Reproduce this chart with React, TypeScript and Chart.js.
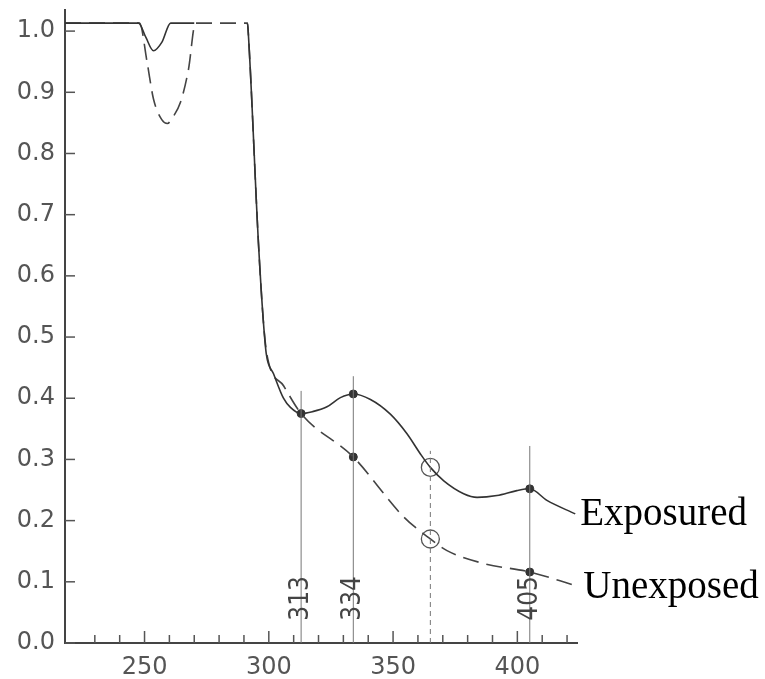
import React, { useEffect, useRef } from 'react';
import { Chart, registerables } from 'chart.js';
Chart.register(...registerables);

// Wavelength (nm) and relative transmittance
const exposedX = [218, 247.6, 250.5, 253.6, 257, 260.5, 270, 291.4, 291.7, 295.8, 297.8, 299, 301.9, 305.9, 308.7, 313, 317.5, 323.4, 328.8, 334, 340.9, 348.9, 355.6, 361, 365, 370.4, 378.4, 383.8, 391.8, 399.8, 405, 411.9, 423.3];
const exposedY = [1.013, 1.013, 0.99, 0.968, 0.982, 1.013, 1.013, 1.013, 1.0, 0.656, 0.526, 0.472, 0.44, 0.4, 0.385, 0.375, 0.378, 0.386, 0.401, 0.407, 0.398, 0.374, 0.342, 0.309, 0.287, 0.265, 0.244, 0.238, 0.241, 0.249, 0.252, 0.233, 0.211];

const unexposedX = [218, 248, 251, 253.6, 257, 259.2, 261.5, 264.5, 267.7, 270.5, 291.4, 291.7, 295.8, 297.8, 299.3, 306, 313, 334, 354.3, 365, 371.7, 386.4, 405, 423.3];
const unexposedY = [1.013, 1.013, 0.95, 0.889, 0.855, 0.849, 0.86, 0.884, 0.938, 1.013, 1.013, 1.0, 0.656, 0.526, 0.47, 0.42, 0.375, 0.304, 0.206, 0.17, 0.151, 0.13, 0.116, 0.094];

// Marked wavelengths (mercury lines)
const markedLines = [313, 334, 405];
const markedLineTops = [0.412, 0.436, 0.322];
const dotX = [313, 334, 405, 334, 405];
const dotY = [0.375, 0.407, 0.252, 0.304, 0.116];
const iLine = 365;
const iLineTop = 0.314;
const circleY = [0.287, 0.17];

const xTickLabels = [250, 300, 350, 400];
const seriesNames = ['Exposured', 'Unexposed'];

const pts = (xs: number[], ys: number[]) => xs.map((x, i) => ({ x, y: ys[i] }));

const overlayPlugin = {
  id: 'overlay',
  afterDatasetsDraw(chart: any) {
    const { ctx, scales } = chart;
    const xs = scales.x;
    const ys = scales.y;
    const area = chart.chartArea;
    ctx.save();
    // inward tick marks
    ctx.strokeStyle = '#555';
    ctx.lineWidth = 1.5;
    xs.ticks.forEach((t: any) => {
      if (t.value <= 220) return;
      const px = xs.getPixelForValue(t.value);
      const len = t.value % 50 === 0 ? 12 : 8;
      ctx.beginPath();
      ctx.moveTo(px, area.bottom);
      ctx.lineTo(px, area.bottom - len);
      ctx.stroke();
    });
    ys.ticks.forEach((t: any) => {
      const py = ys.getPixelForValue(t.value);
      ctx.beginPath();
      ctx.moveTo(area.left, py);
      ctx.lineTo(area.left + 10, py);
      ctx.stroke();
    });
    // rotated wavelength labels
    ctx.fillStyle = '#444';
    ctx.font = '26px "DejaVu Sans Condensed", "DejaVu Sans", sans-serif';
    ctx.textAlign = 'center';
    ctx.textBaseline = 'middle';
    markedLines.forEach((w) => {
      const px = xs.getPixelForValue(w);
      const py = ys.getPixelForValue(0.073);
      ctx.save();
      ctx.translate(px, py);
      ctx.rotate(-Math.PI / 2);
      ctx.fillText(String(w), 0, 0);
      ctx.restore();
    });
    // series end labels
    ctx.fillStyle = '#000';
    ctx.font = '39px "Liberation Serif", "DejaVu Serif", serif';
    ctx.textAlign = 'left';
    ctx.textBaseline = 'alphabetic';
    const ex = exposedX[exposedX.length - 1];
    const ey = exposedY[exposedY.length - 1];
    ctx.fillText(seriesNames[0], xs.getPixelForValue(ex) + 5, ys.getPixelForValue(ey) + 11);
    const ux = unexposedX[unexposedX.length - 1];
    const uy = unexposedY[unexposedY.length - 1];
    ctx.fillText(seriesNames[1], xs.getPixelForValue(ux) + 8, ys.getPixelForValue(uy) + 13);
    ctx.restore();
  },
};

export default function App() {
  const ref = useRef<HTMLCanvasElement | null>(null);
  useEffect(() => {
    if (!ref.current) return;
    const vertical = markedLines.map((w, i) => ({
      type: 'line' as const,
      data: [{ x: w, y: 0 }, { x: w, y: markedLineTops[i] }],
      borderColor: '#777',
      borderWidth: 1,
      pointRadius: 0,
      tension: 0,
    }));
    const chart = new Chart(ref.current, {
      type: 'line',
      data: {
        datasets: [
          ...vertical,
          {
            data: [{ x: iLine, y: 0 }, { x: iLine, y: iLineTop }],
            borderColor: '#777',
            borderWidth: 1,
            borderDash: [5, 4],
            pointRadius: 0,
            tension: 0,
          },
          {
            label: seriesNames[0],
            data: pts(exposedX, exposedY),
            borderColor: '#333',
            borderWidth: 1.6,
            pointRadius: 0,
            cubicInterpolationMode: 'monotone',
            segment: {
              borderColor: (c: any) =>
                c.p0.parsed.x >= 269 && c.p1.parsed.x <= 291.5 ? 'rgba(0,0,0,0)' : undefined,
            },
          },
          {
            label: seriesNames[1],
            data: pts(unexposedX, unexposedY),
            borderColor: '#444',
            borderWidth: 1.6,
            borderDash: [16, 8],
            pointRadius: 0,
            cubicInterpolationMode: 'monotone',
          },
          {
            data: pts(dotX, dotY),
            showLine: false,
            pointRadius: 4,
            pointBackgroundColor: '#333',
            pointBorderColor: '#333',
            borderColor: '#333',
          },
          {
            data: circleY.map((y) => ({ x: iLine, y })),
            showLine: false,
            pointRadius: 9,
            pointBackgroundColor: 'rgba(0,0,0,0)',
            pointBorderColor: '#555',
            pointBorderWidth: 1.3,
            borderColor: '#555',
          },
        ] as any,
      },
      options: {
        animation: false,
        responsive: true,
        maintainAspectRatio: false,
        layout: { padding: { left: 0, right: 188, top: 8, bottom: 0 } },
        plugins: { legend: { display: false }, tooltip: { enabled: false } },
        scales: {
          x: {
            type: 'linear',
            min: 218,
            max: 424,
            afterFit: (s: any) => { s.height = 36; s.paddingLeft = 0; s.paddingRight = 0; },
            grid: { display: false, drawTicks: false },
            border: { display: true, color: '#444', width: 2 },
            ticks: {
              stepSize: 10,
              includeBounds: false,
              autoSkip: false,
              maxRotation: 0,
              padding: 10,
              color: '#555',
              font: { family: 'DejaVu Sans', size: 24 },
              callback: (v: any) => (xTickLabels.includes(Number(v)) ? String(v) : ''),
            },
          },
          y: {
            type: 'linear',
            min: 0,
            max: 1.034,
            afterFit: (s: any) => { s.width = 65; s.paddingTop = 0; s.paddingBottom = 0; },
            grid: { display: false, drawTicks: false },
            border: { display: true, color: '#444', width: 2 },
            ticks: {
              stepSize: 0.1,
              includeBounds: false,
              padding: 10,
              color: '#555',
              font: { family: 'DejaVu Sans', size: 24 },
              callback: (v: any) => Number(v).toFixed(1),
            },
          },
        },
      },
      plugins: [overlayPlugin],
    });
    return () => chart.destroy();
  }, []);
  return (
    <div style={{ position: 'fixed', left: 0, top: 0, width: 765, height: 679, background: '#fff' }}>
      <canvas ref={ref} />
    </div>
  );
}
